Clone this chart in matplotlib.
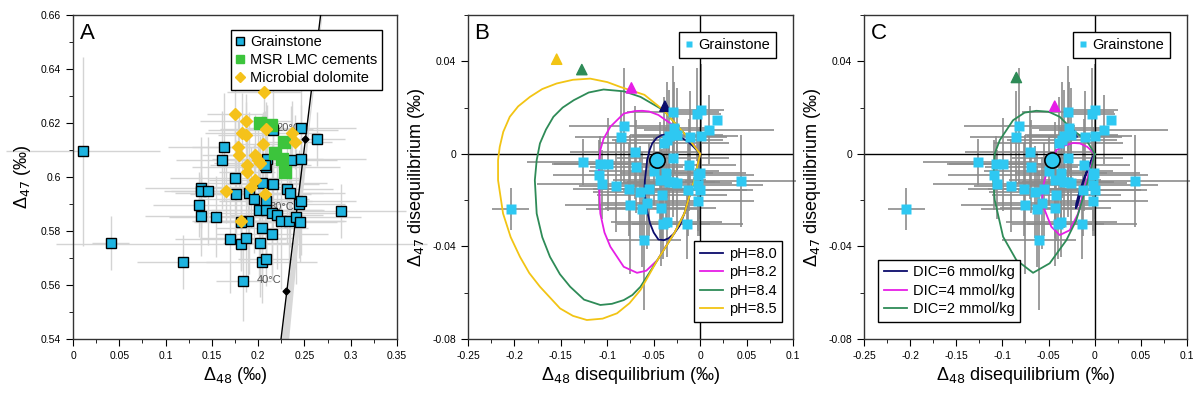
import numpy as np
import matplotlib
matplotlib.use('Agg')
import matplotlib.pyplot as plt
from matplotlib.ticker import MultipleLocator, FuncFormatter

plt.rcParams['font.family'] = ['Liberation Sans', 'DejaVu Sans']

# ---- panel A data ----
ga_x = [0.011, 0.041, 0.119, 0.163, 0.161, 0.175, 0.176, 0.138, 0.138, 0.136, 0.138, 0.146, 0.154, 0.170, 0.182,
        0.187, 0.184, 0.189, 0.181, 0.190, 0.195, 0.201, 0.204, 0.202, 0.204, 0.208, 0.204, 0.208, 0.209, 0.215,
        0.216, 0.215, 0.220, 0.225, 0.233, 0.231, 0.234, 0.241, 0.244, 0.246, 0.245, 0.235, 0.246, 0.246, 0.264,
        0.290, 0.208, 0.210, 0.216, 0.207]
ga_y = [0.6096, 0.5754, 0.5685, 0.6112, 0.6063, 0.5997, 0.5937, 0.5960, 0.5948, 0.5898, 0.5857, 0.5949, 0.5852,
        0.5772, 0.5751, 0.5775, 0.5616, 0.5838, 0.5834, 0.5940, 0.5919, 0.5876, 0.5811, 0.5756, 0.5684, 0.5695,
        0.5978, 0.5910, 0.5876, 0.5868, 0.5975, 0.5789, 0.5858, 0.5837, 0.5836, 0.5955, 0.5942, 0.5852, 0.5901,
        0.5912, 0.5835, 0.6062, 0.6068, 0.6180, 0.6140, 0.5875, 0.6036, 0.6067, 0.6175, 0.6044]
ga_xe = [0.083, 0.02, 0.05, 0.06, 0.05, 0.07, 0.05, 0.06, 0.04, 0.05, 0.06, 0.04, 0.05, 0.06, 0.2, 0.05, 0.03,
         0.06, 0.05, 0.08, 0.06, 0.07, 0.05, 0.04, 0.06, 0.03, 0.07, 0.05, 0.06, 0.07, 0.05, 0.06, 0.05, 0.07,
         0.06, 0.05, 0.06, 0.07, 0.05, 0.06, 0.04, 0.05, 0.07, 0.06, 0.03, 0.07, 0.08, 0.06, 0.07, 0.05]
ga_ye = [0.035, 0.01, 0.01, 0.02, 0.018, 0.025, 0.02, 0.015, 0.02, 0.012, 0.015, 0.02, 0.015, 0.02, 0.01, 0.02,
         0.015, 0.02, 0.018, 0.03, 0.02, 0.025, 0.02, 0.02, 0.015, 0.01, 0.025, 0.02, 0.02, 0.025, 0.02, 0.015,
         0.02, 0.025, 0.02, 0.02, 0.02, 0.025, 0.02, 0.02, 0.015, 0.02, 0.02, 0.02, 0.01, 0.01, 0.02, 0.02,
         0.015, 0.02]

md_x = [0.206, 0.175, 0.187, 0.183, 0.187, 0.178, 0.179, 0.205, 0.209, 0.197, 0.200, 0.202, 0.188, 0.188,
        0.197, 0.192, 0.165, 0.207, 0.181, 0.237, 0.240]
md_y = [0.6314, 0.6235, 0.6206, 0.6162, 0.6157, 0.6112, 0.6081, 0.6121, 0.6178, 0.6081, 0.6063, 0.6051, 0.6044,
        0.6018, 0.5988, 0.5962, 0.5949, 0.5936, 0.5838, 0.6162, 0.6131]
md_xe = [0.04, 0.03, 0.05, 0.04, 0.03, 0.05, 0.04, 0.03, 0.05, 0.04, 0.03, 0.05, 0.04, 0.03, 0.05, 0.04, 0.03,
         0.05, 0.04, 0.03, 0.04]
md_ye = [0.015, 0.012, 0.01, 0.015, 0.012, 0.01, 0.015, 0.012, 0.01, 0.015, 0.012, 0.01, 0.015, 0.012, 0.01,
         0.015, 0.012, 0.01, 0.015, 0.012, 0.01]

ms_x = [0.202, 0.214, 0.228, 0.218, 0.226, 0.229]
ms_y = [0.6201, 0.6193, 0.6131, 0.6090, 0.6065, 0.6017]

cal_x = [0.2247, 0.2675]
cal_y = [0.54, 0.66]
cal_band_y = [0.54, 0.58, 0.62, 0.66]
cal_band_lo = [0.2250, 0.2395, 0.2540, 0.2680]
cal_band_hi = [0.2330, 0.2440, 0.2555, 0.2690]
cal_pts_x = [0.2305, 0.2510]
cal_pts_y = [0.5578, 0.6141]
temp_labels = ['40°C', '30°C', '20°C']
temp_x = [0.199, 0.212, 0.220]
temp_y = [0.5617, 0.5890, 0.6183]

# ---- panels B / C data ----
gb_x = [-0.204, -0.126, -0.1075, -0.0996, -0.1086, -0.1057, -0.0909, -0.0852, -0.0816, -0.0704, -0.0686, -0.0769,
        -0.0751, -0.065, -0.0628, -0.0606, -0.0567, -0.0552, -0.0498, -0.0433, -0.0426, -0.0415, -0.0397, -0.0361,
        -0.039, -0.0364, -0.0354, -0.0336, -0.0332, -0.0292, -0.0292, -0.0281, -0.0289, -0.0253, -0.0253, -0.013,
        -0.0137, -0.0115, -0.0108, -0.0029, 0.0007, 0.0004, -0.0004, -0.0022, -0.0018, 0.0, -0.0022, 0.0097, 0.018,
        0.0437]
gb_y = [-0.0237, -0.0036, -0.0042, -0.0045, -0.0092, -0.0132, -0.0138, 0.0073, 0.0122, 0.0007, -0.0055, -0.0154,
        -0.022, -0.0164, -0.024, -0.0373, -0.0213, -0.0153, -0.0073, -0.0114, -0.0233, -0.0177, -0.0305, -0.0295,
        0.0045, -0.0082, 0.0059, -0.0121, 0.0075, 0.018, -0.0017, 0.0112, -0.0121, -0.0128, 0.0083, -0.0157,
        -0.0305, -0.0049, 0.0073, 0.0171, 0.0189, 0.0076, -0.0083, -0.0092, -0.0135, -0.0157, -0.0203, 0.0105,
        0.0145, -0.0118]
gb_xe = [0.02, 0.06, 0.05, 0.06, 0.05, 0.07, 0.04, 0.05, 0.06, 0.07, 0.05, 0.06, 0.07, 0.05, 0.06, 0.04, 0.05,
         0.06, 0.07, 0.05, 0.06, 0.07, 0.05, 0.06, 0.07, 0.05, 0.06, 0.05, 0.04, 0.05, 0.06, 0.04, 0.05, 0.06,
         0.05, 0.07, 0.06, 0.05, 0.04, 0.025, 0.025, 0.04, 0.05, 0.06, 0.07, 0.05, 0.06, 0.07, 0.0, 0.06]
gb_ye = [0.009, 0.01, 0.012, 0.02, 0.015, 0.015, 0.02, 0.02, 0.025, 0.02, 0.02, 0.02, 0.03, 0.02, 0.025, 0.03,
         0.02, 0.02, 0.015, 0.025, 0.025, 0.02, 0.015, 0.015, 0.02, 0.02, 0.025, 0.02, 0.02, 0.02, 0.02, 0.02,
         0.015, 0.02, 0.02, 0.02, 0.015, 0.02, 0.02, 0.02, 0.02, 0.02, 0.02, 0.02, 0.02, 0.02, 0.015, 0.015,
         0.0, 0.02]
mean_x, mean_y = -0.0462, -0.0027

# pH curves (panel B)
ph80_x = [0, -0.0035, -0.0065, -0.012, -0.017, -0.022, -0.028, -0.034, -0.039, -0.045, -0.050, -0.054, -0.058,
          -0.060, -0.0595, -0.057, -0.0545, -0.0516, -0.047, -0.042, -0.0354, -0.028, -0.0205, -0.0137, -0.007, 0]
ph80_y = [0, -0.006, -0.0114, -0.019, -0.0258, -0.031, -0.0344, -0.0365, -0.0373, -0.037, -0.034, -0.030, -0.023,
          -0.0157, -0.0114, -0.0027, 0.0015, 0.0045, 0.0068, 0.0080, 0.0085, 0.0082, 0.0070, 0.0055, 0.003, 0]
ph82_x = [0, -0.0101, -0.0200, -0.0318, -0.045, -0.055, -0.0624, -0.070, -0.0823, -0.0967, -0.104, -0.1075,
          -0.109, -0.109, -0.1075, -0.103, -0.0967, -0.0823, -0.068, -0.058, -0.046, -0.037, -0.028, -0.017,
          -0.0065, 0]
ph82_y = [0, 0.0059, 0.0100, 0.0131, 0.0168, 0.0183, 0.0186, 0.0185, 0.0174, 0.0117, 0.0065, 0.0016, -0.005,
          -0.0114, -0.0258, -0.034, -0.0401, -0.0488, -0.0514, -0.0505, -0.0459, -0.040, -0.0344, -0.0258,
          -0.0114, 0]
ph84_x = [0, -0.0137, -0.0393, -0.0642, -0.082, -0.104, -0.120, -0.136, -0.148, -0.158, -0.166, -0.1725, -0.176,
          -0.178, -0.176, -0.170, -0.1617, -0.151, -0.14, -0.125, -0.1075, -0.095, -0.0823, -0.073, -0.0642,
          -0.046, -0.028, -0.017, -0.0065, 0]
ph84_y = [0, 0.0073, 0.0188, 0.0246, 0.0270, 0.0278, 0.0265, 0.0232, 0.0200, 0.016, 0.0105, 0.0045, -0.0027,
          -0.0114, -0.0258, -0.036, -0.0445, -0.0520, -0.0574, -0.0630, -0.0653, -0.0648, -0.0632, -0.0610,
          -0.0574, -0.0459, -0.0344, -0.0258, -0.0114, 0]
ph85_x = [0, -0.0137, -0.0393, -0.060, -0.0859, -0.100, -0.1184, -0.137, -0.1545, -0.170, -0.1833, -0.196,
          -0.205, -0.212, -0.2158, -0.2176, -0.2176, -0.2122, -0.204, -0.194, -0.184, -0.1725, -0.1508, -0.137,
          -0.122, -0.105, -0.0895, -0.076, -0.0642, -0.046, -0.028, -0.017, -0.0065, 0]
ph85_y = [0, 0.0073, 0.0188, 0.0255, 0.0289, 0.031, 0.0325, 0.032, 0.0304, 0.0280, 0.0246, 0.0205, 0.016,
          0.0095, 0.003, -0.0027, -0.0114, -0.0258, -0.036, -0.0445, -0.0515, -0.0574, -0.0668, -0.0700,
          -0.0718, -0.0712, -0.0689, -0.0645, -0.0588, -0.0459, -0.0344, -0.0258, -0.0114, 0]
ph_tri_x = [-0.0379, -0.074, -0.1274, -0.1545]
ph_tri_y = [0.0206, 0.0285, 0.0364, 0.0409]

# DIC curves (panel C)
dic6_x = [0, -0.006, -0.012, -0.017, -0.020, -0.0205, -0.019, -0.016, -0.012, -0.007, -0.003, 0]
dic6_y = [0, -0.005, -0.011, -0.017, -0.0215, -0.0235, -0.0225, -0.018, -0.012, -0.006, -0.002, 0]
dic4_x = [0, -0.008, -0.016, -0.0235, -0.033, -0.0415, -0.0506, -0.056, -0.057, -0.0542, -0.047, -0.0379,
          -0.0271, -0.018, -0.0126, -0.0054, 0]
dic4_y = [0, 0.003, 0.0045, 0.0047, 0.0035, 0.0016, -0.0056, -0.0142, -0.02, -0.0243, -0.0315, -0.0351, -0.033,
          -0.0258, -0.0171, -0.007, 0]
dic2_x = [0, -0.009, -0.0235, -0.0379, -0.050, -0.0632, -0.076, -0.0885, -0.1029, -0.1083, -0.110, -0.1083,
          -0.0993, -0.0849, -0.0668, -0.0488, -0.0307, -0.0199, -0.012, -0.005, 0]
dic2_y = [0, 0.0059, 0.0102, 0.016, 0.0182, 0.0186, 0.0178, 0.0145, 0.0059, 0.0001, -0.0114, -0.02, -0.0358,
          -0.0459, -0.0514, -0.0473, -0.0373, -0.0286, -0.018, -0.008, 0]
dic_tri_x = [-0.0246, -0.0433, -0.0849]
dic_tri_y = [0.0095, 0.0206, 0.033]

c_navy = '#0b0b6b'
c_mag = '#e61ee6'
c_green = '#2e8b57'
c_yel = '#f2c414'
c_cyan = '#2ec8f2'


def tick_fmt(v, pos):
    return '%g' % round(v, 6)


def style_axes(ax, xmaj, ymaj):
    ax.xaxis.set_major_locator(MultipleLocator(xmaj))
    ax.xaxis.set_minor_locator(MultipleLocator(xmaj / 2))
    ax.yaxis.set_major_locator(MultipleLocator(ymaj))
    ax.yaxis.set_minor_locator(MultipleLocator(ymaj / 2))
    ax.xaxis.set_major_formatter(FuncFormatter(tick_fmt))
    ax.yaxis.set_major_formatter(FuncFormatter(tick_fmt))
    ax.tick_params(which='major', direction='out', length=5, labelsize=7.5)
    ax.tick_params(which='minor', direction='out', length=3)
    for s in ax.spines.values():
        s.set_linewidth(1.0)
        s.set_color('#333333')


fig = plt.figure(figsize=(12.03, 3.94), dpi=100)

# ---------------- panel A ----------------
axA = fig.add_axes([0.0607, 0.1396, 0.2693, 0.8224])
axA.errorbar(ga_x, ga_y, xerr=ga_xe, yerr=ga_ye, fmt='none', ecolor='#d4d4d4', elinewidth=1.0, zorder=1,
             clip_on=False)
axA.errorbar(md_x, md_y, xerr=md_xe, yerr=md_ye, fmt='none', ecolor='#d4d4d4', elinewidth=1.0, zorder=1,
             clip_on=False)
axA.fill_betweenx(cal_band_y, cal_band_lo, cal_band_hi, color='#d8d8d8', lw=0, zorder=2)
axA.plot(cal_x, cal_y, color='black', lw=1, zorder=3)
axA.plot(cal_pts_x, cal_pts_y, 'D', color='black', ms=3.5, zorder=3)
for t, tx, ty in zip(temp_labels, temp_x, temp_y):
    axA.text(tx, ty, t, fontsize=8, color='#555555', va='center', zorder=2)
axA.plot(ga_x, ga_y, 's', mfc='#1eb4e0', mec='black', mew=1, ms=6.5, zorder=4, label='Grainstone')
axA.plot(ms_x, ms_y, 's', mfc='#3cc43c', mec='#3cc43c', ms=8, zorder=5, label='MSR LMC cements')
axA.plot(md_x, md_y, 'D', mfc='#f5c21b', mec='#f5c21b', ms=6, zorder=6, label='Microbial dolomite')
axA.set_xlim(0, 0.35)
axA.set_ylim(0.54, 0.66)
style_axes(axA, 0.05, 0.02)
axA.set_xlabel('Δ$_{48}$ (‰)', fontsize=13, labelpad=3)
axA.set_ylabel('Δ$_{47}$ (‰)', fontsize=13, labelpad=6)
axA.text(0.02, 0.975, 'A', transform=axA.transAxes, fontsize=16, va='top')
legA = axA.legend(loc='upper right', fontsize=10.5, handlelength=0.6, handletextpad=0.4, borderpad=0.3,
                  labelspacing=0.3, fancybox=False, edgecolor='black', framealpha=1,
                  markerscale=0.8, bbox_to_anchor=(0.975, 0.975))
legA.get_frame().set_linewidth(1)


def panel_bc(rect, letter):
    ax = fig.add_axes(rect)
    ax.errorbar(gb_x, gb_y, xerr=gb_xe, yerr=gb_ye, fmt='none', ecolor='#8c8c8c', elinewidth=1.2, zorder=1,
                clip_on=False)
    ax.axhline(0, color='black', lw=1, zorder=2)
    ax.axvline(0, color='black', lw=1, zorder=2)
    ax.set_xlim(-0.25, 0.1)
    ax.set_ylim(-0.08, 0.06)
    style_axes(ax, 0.05, 0.04)
    ax.set_xlabel('Δ$_{48}$ disequilibrium (‰)', fontsize=13, labelpad=3)
    ax.set_ylabel('Δ$_{47}$ disequilibrium (‰)', fontsize=13, labelpad=4)
    ax.text(0.02, 0.975, letter, transform=ax.transAxes, fontsize=16, va='top')
    return ax


# ---------------- panel B ----------------
axB = panel_bc([0.389, 0.1396, 0.2702, 0.8224], 'B')
curvesB = [(ph80_x, ph80_y, c_navy, 'pH=8.0'), (ph82_x, ph82_y, c_mag, 'pH=8.2'),
           (ph84_x, ph84_y, c_green, 'pH=8.4'), (ph85_x, ph85_y, c_yel, 'pH=8.5')]
hB = []
for cx, cy, col, lab in curvesB:
    l, = axB.plot(cx, cy, color=col, lw=1.3, zorder=3, label=lab)
    hB.append(l)
axB.scatter(ph_tri_x, ph_tri_y, marker='^', s=55, c=[c_navy, c_mag, c_green, c_yel], zorder=4)
g1, = axB.plot(gb_x, gb_y, 's', color=c_cyan, ms=7, mec='none', zorder=5, label='Grainstone')
axB.plot(mean_x, mean_y, 'o', mfc=c_cyan, mec='black', mew=1.2, ms=11, zorder=6)
lg1 = axB.legend(handles=[g1], loc='upper right', fontsize=10.5, handlelength=0.5, handletextpad=0.4,
                 fancybox=False, edgecolor='black', framealpha=1, markerscale=0.7, borderpad=0.4,
                 bbox_to_anchor=(0.97, 0.97))
axB.add_artist(lg1)
axB.legend(handles=hB, loc='lower right', fontsize=10.5, handlelength=1.6, handletextpad=0.4,
           fancybox=False, edgecolor='black', framealpha=1, borderpad=0.4, labelspacing=0.3,
           bbox_to_anchor=(0.99, 0.03))

# ---------------- panel C ----------------
axC = panel_bc([0.7182, 0.1396, 0.2685, 0.8224], 'C')
curvesC = [(dic6_x, dic6_y, c_navy, 'DIC=6 mmol/kg'), (dic4_x, dic4_y, c_mag, 'DIC=4 mmol/kg'),
           (dic2_x, dic2_y, c_green, 'DIC=2 mmol/kg')]
hC = []
for cx, cy, col, lab in curvesC:
    l, = axC.plot(cx, cy, color=col, lw=1.3, zorder=3, label=lab)
    hC.append(l)
axC.scatter(dic_tri_x, dic_tri_y, marker='^', s=55, c=[c_navy, c_mag, c_green], zorder=4)
g2, = axC.plot(gb_x, gb_y, 's', color=c_cyan, ms=7, mec='none', zorder=5, label='Grainstone')
axC.plot(mean_x, mean_y, 'o', mfc=c_cyan, mec='black', mew=1.2, ms=11, zorder=6)
lg3 = axC.legend(handles=[g2], loc='upper right', fontsize=10.5, handlelength=0.5, handletextpad=0.4,
                 fancybox=False, edgecolor='black', framealpha=1, markerscale=0.7, borderpad=0.4,
                 bbox_to_anchor=(0.97, 0.97))
axC.add_artist(lg3)
axC.legend(handles=hC, loc='lower left', fontsize=10.5, handlelength=1.6, handletextpad=0.4,
           fancybox=False, edgecolor='black', framealpha=1, borderpad=0.4, labelspacing=0.3,
           bbox_to_anchor=(0.02, 0.03))

fig.savefig('out.png', dpi=100)
